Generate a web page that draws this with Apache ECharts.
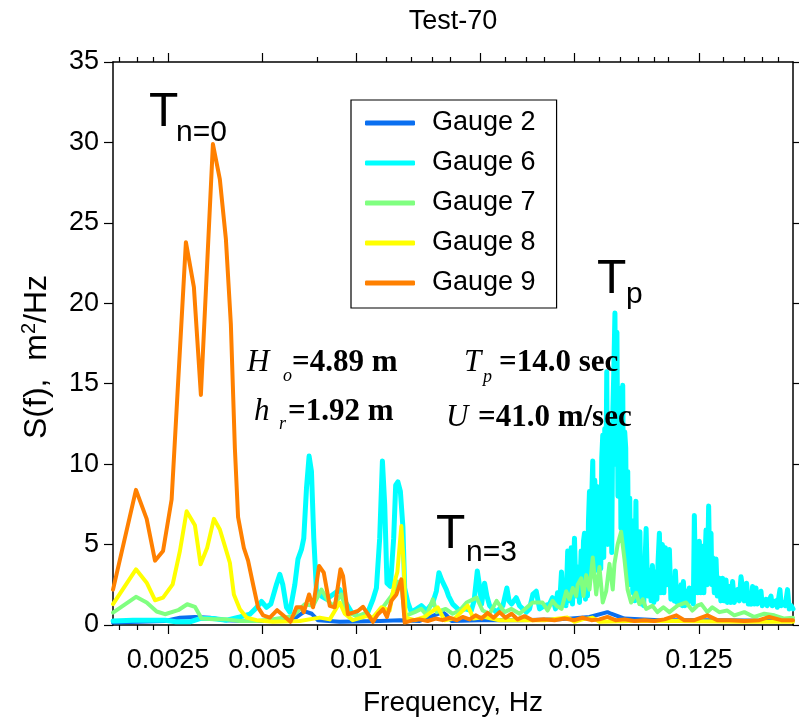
<!DOCTYPE html>
<html>
<head>
<meta charset="utf-8">
<title>Test-70</title>
<script src="https://cdn.jsdelivr.net/npm/echarts@6/dist/echarts.min.js"></script>
<style>
  html, body { margin: 0; padding: 0; background: #ffffff; }
  #chart { width: 799px; height: 722px; }
</style>
</head>
<body>
<div id="chart"></div>
<script>
// Fonts
const SANS = "'Liberation Sans',Arial,Helvetica,sans-serif";
const SERIF = "'Liberation Serif','Times New Roman',Times,serif";

// Frequency axis (log scale, Hz)
const freqMin = 1 / 600;
const freqMax = 0.25;
const majorTicks = [0.0025, 0.005, 0.01, 0.025, 0.05, 0.125];
const majorTickLabels = ['0.0025', '0.005', '0.01', '0.025', '0.05', '0.125'];
const minorTicks = [0.00175, 0.002, 0.00225, 0.0075, 0.0125, 0.015, 0.0175, 0.02,
  0.03, 0.035, 0.04, 0.06, 0.07, 0.08, 0.09, 0.1, 0.15, 0.175, 0.2, 0.225];

// Spectral density axis (m^2/Hz)
const densMin = 0;
const densMax = 35;
const densStep = 5;

const gaugeNames = ['Gauge 2', 'Gauge 6', 'Gauge 7', 'Gauge 8', 'Gauge 9'];
const gaugeColors = ['#0a6ff0', '#00ffff', '#80ff80', '#ffff00', '#ff8000'];
const gaugeWidths = [4, 5, 4, 4, 4];

// [frequency Hz, S(f) m^2/Hz]
const gauge2 = [
  [0.001667,0.15],[0.002033,0.2],[0.002444,0.25],[0.002729,0.45],[0.003048,0.5],[0.003404,0.45],
  [0.003801,0.3],[0.004569,0.25],[0.005698,0.25],[0.006457,0.5],[0.006849,0.85],[0.007211,0.7],
  [0.007536,0.3],[0.008861,0.2],[0.011894,0.25],[0.013781,0.3],[0.015966,0.25],[0.018911,0.8],
  [0.019476,0.6],[0.020206,0.25],[0.024831,0.3],[0.033332,0.3],[0.044742,0.35],[0.055797,0.5],
  [0.063702,0.8],[0.065446,0.7],[0.072193,0.4],[0.093405,0.3],[0.145264,0.3],[0.25,0.25]
];

const gauge6 = [
  [0.001667,0.25],[0.001931,0.3],[0.002188,0.3],[0.002444,0.3],[0.002650,0.2],[0.002938,0.2],
  [0.003162,0.4],[0.003480,0.4],[0.003849,0.3],[0.004245,0.5],[0.004569,0.67],[0.004800,1.08],
  [0.004978,1.46],[0.005167,1.1],[0.005332,1.3],[0.005561,2.53],[0.005698,3.15],[0.005825,2.5],
  [0.005986,1.1],[0.006133,0.8],[0.006363,2.5],[0.006514,4.1],[0.006683,4.7],[0.006798,5.4],
  [0.006935,8.5],[0.007069,10.5],[0.007193,9.55],[0.007318,5.4],[0.007465,2.1],[0.007743,1.8],
  [0.008035,1.6],[0.008432,1.9],[0.008861,2.2],[0.009193,1.5],[0.009656,0.8],[0.010266,0.46],
  [0.010905,0.8],[0.011322,1.6],[0.011610,2.3],[0.011894,5.4],[0.012134,10.2],[0.012340,7.5],
  [0.012550,2.6],[0.012869,2.4],[0.013185,5.4],[0.013381,8.7],[0.013599,8.9],[0.013852,8.3],
  [0.014112,6.1],[0.014297,2.3],[0.014638,1.4],[0.015017,0.8],[0.015618,1.0],[0.016164,1.2],
  [0.016810,0.9],[0.017597,1.4],[0.018056,2.1],[0.018404,3.25],[0.018773,2.8],[0.019435,2.2],
  [0.019765,1.8],[0.020370,1.3],[0.021432,0.9],[0.022400,1.0],[0.023361,0.9],[0.023846,1.5],
  [0.024414,3.36],[0.024831,2.4],[0.025199,1.3],[0.025762,2.6],[0.026200,1.8],[0.026728,1.2],
  [0.028081,0.8],[0.029475,1.2],[0.030357,2.3],[0.030854,1.5],[0.031425,1.3],[0.032534,1.7],
  [0.033332,1.2],[0.035019,0.8],[0.035877,1.0],[0.036759,1.9],[0.037694,2.1],[0.038618,1.0],
  [0.040065,1.2],[0.041567,1.3],[0.042495,1.7],[0.043444,1.0],[0.044089,2.0],[0.044742,1.2],
  [0.045406,3.3],[0.045910,1.5],[0.046419,2.5],[0.046936,1.2],[0.047525,4.6],[0.048160,1.5],
  [0.048769,4.8],[0.049234,1.3],[0.049965,5.4],[0.050520,1.8],[0.051155,3.6],[0.051838,1.4],
  [0.052479,4.6],[0.052995,2.0],[0.053387,5.2],[0.053781,5.7],[0.054179,1.6],[0.054579,4.5],
  [0.054982,1.8],[0.055388,6.5],[0.055797,8.3],[0.056209,3.5],[0.056624,7.4],[0.057168,10.2],
  [0.057592,3.8],[0.058018,9.0],[0.058446,7.1],[0.058878,3.4],[0.059313,8.6],[0.059753,3.6],
  [0.060194,7.9],[0.060636,3.5],[0.061087,10.4],[0.061535,11.8],[0.061991,4.2],[0.062449,12.2],
  [0.062910,8.0],[0.063375,15.75],[0.063843,5.0],[0.064317,12.4],[0.064791,6.0],[0.065268,11.2],
  [0.065753,4.5],[0.066235,13.0],[0.066726,15.6],[0.067318,19.4],[0.067815,10.0],[0.068316,18.2],
  [0.068825,8.0],[0.069332,14.0],[0.069844,14.7],[0.070358,6.0],[0.070881,13.0],[0.071294,14.9],
  [0.071822,5.0],[0.072353,12.0],[0.072887,11.0],[0.073426,3.5],[0.073968,9.55],[0.074517,2.5],
  [0.075067,7.9],[0.075619,2.5],[0.076181,6.5],[0.076739,2.0],[0.077308,5.8],[0.077879,1.5],
  [0.078570,7.7],[0.079151,2.0],[0.079740,5.0],[0.080328,1.8],[0.080920,5.8],[0.081516,1.3],
  [0.082419,3.7],[0.083212,1.2],[0.084702,6.0],[0.085700,1.8],
  [0.086778,3.4],[0.087875,1.5],[0.088714,3.7],[0.089699,1.4],[0.090696,3.3],[0.091703,1.6],
  [0.092520,4.0],[0.093405,5.7],[0.094444,2.0],[0.095490,5.0],[0.096551,2.0],[0.097623,4.8],
  [0.098708,2.5],[0.100539,4.7],[0.101658,1.6],[0.103009,2.3],[0.104308,1.5],[0.105079,3.36],
  [0.106246,1.4],[0.107425,2.0],[0.108622,1.3],[0.109588,2.5],[0.110633,1.2],[0.111451,2.7],
  [0.112691,1.2],[0.113940,2.1],[0.115213,1.3],[0.116485,2.3],[0.117780,1.5],[0.119083,2.2],
  [0.119964,1.3],[0.120850,6.8],[0.122013,2.0],[0.122914,5.0],[0.124014,2.0],[0.125382,5.2],
  [0.126775,2.0],[0.128461,4.9],[0.129603,2.0],[0.131730,5.9],[0.132985,2.5],[0.134270,7.4],
  [0.135461,3.0],[0.136664,5.7],[0.137472,2.5],[0.138273,4.2],[0.140016,2.0],[0.141790,4.1],
  [0.143143,1.8],[0.145264,2.9],[0.146880,1.5],[0.148833,2.9],[0.150711,1.5],[0.152621,2.8],
  [0.154076,1.4],[0.156360,2.4],[0.158098,1.4],[0.160201,2.7],[0.162219,1.4],[0.166212,2.2],
  [0.168302,1.5],[0.170431,3.0],[0.172437,3.05],[0.174611,1.5],[0.177593,2.6],[0.179828,1.3],
  [0.182107,1.6],[0.183845,1.3],[0.185607,2.4],[0.187949,1.3],[0.190331,2.3],[0.192145,1.3],
  [0.197459,2.1],[0.199346,1.2],[0.204868,1.6],[0.206821,1.2],[0.212542,1.8],[0.214571,1.2],
  [0.220515,1.5],[0.222617,1.1],[0.227101,2.2],[0.229267,1.2],[0.232668,1.4],[0.236120,1.2],
  [0.240152,2.2],[0.243173,1.0],[0.246779,1.2],[0.25,1.0]
];

const gauge7 = [
  [0.001667,0.77],[0.001974,1.75],[0.002136,1.4],[0.002299,0.84],[0.002444,0.67],[0.002693,0.92],
  [0.002880,1.29],[0.003048,1.13],[0.003201,0.4],[0.003488,0.35],[0.003849,0.35],[0.004245,0.25],
  [0.004800,0.25],[0.005421,0.36],[0.006270,0.55],[0.006849,1.29],[0.007280,1.19],[0.007743,2.2],
  [0.008124,1.5],[0.008432,1.2],[0.008971,1.9],[0.009310,0.8],[0.010116,0.55],[0.010786,0.77],
  [0.011214,0.4],[0.012186,1.1],[0.012961,1.8],[0.013599,2.7],[0.013951,2.5],[0.014297,0.55],
  [0.015389,0.8],[0.016164,1.0],[0.016810,0.6],[0.017597,1.6],[0.018094,0.8],[0.019334,1.0],
  [0.020356,0.7],[0.021432,0.9],[0.022565,1.4],[0.024289,1.7],[0.025385,0.9],[0.026728,0.7],
  [0.028141,1.5],[0.029847,0.8],[0.031425,1.0],[0.033332,0.7],[0.036678,1.4],[0.039480,1.4],
  [0.040960,0.9],[0.042495,1.5],[0.043765,1.2],[0.045406,1.0],[0.047008,2.1],[0.048160,1.6],
  [0.049343,2.3],[0.050598,1.8],[0.051155,2.5],[0.052479,2.9],[0.053387,1.8],[0.054463,3.1],
  [0.055797,2.2],[0.057170,4.2],[0.058623,1.9],[0.060059,3.6],[0.061530,1.4],[0.063100,2.1],
  [0.064646,3.8],[0.066228,2.2],[0.067069,3.8],[0.068667,5.0],[0.070444,5.8],[0.072193,4.1],
  [0.073911,2.2],[0.075825,1.4],[0.078691,2.0],[0.080619,1.3],[0.082600,1.6],[0.084702,1.0],
  [0.088714,1.2],[0.092041,0.8],[0.096196,1.1],[0.100539,0.8],[0.106637,1.2],[0.113698,1.4],
  [0.119083,0.9],[0.123549,1.2],[0.127239,1.3],[0.132985,0.8],[0.137969,1.1],[0.145264,0.8],
  [0.154076,0.9],[0.162219,0.6],[0.174611,0.8],[0.187949,0.5],[0.202303,0.7],[0.217756,0.6],
  [0.234387,0.4],[0.25,0.45]
];

const gauge8 = [
  [0.001667,1.3],[0.001974,3.46],[0.002136,2.63],[0.002271,1.54],[0.002410,1.7],[0.002587,2.53],
  [0.002729,4.6],[0.002867,7.07],[0.003048,6.2],[0.003178,3.77],[0.003336,4.8],[0.003505,6.6],
  [0.003663,5.94],[0.003801,4.9],[0.003943,3.87],[0.004061,1.9],[0.004245,0.98],[0.004459,0.46],
  [0.004800,0.3],[0.005411,0.2],[0.006601,0.25],[0.007648,0.46],[0.008232,0.35],[0.008861,1.4],
  [0.009193,0.7],[0.009751,0.3],[0.010786,0.55],[0.011297,0.45],[0.012041,1.1],[0.012803,0.9],
  [0.013283,2.7],[0.013549,3.3],[0.013951,6.15],[0.014193,3.8],[0.014404,0.46],[0.015389,0.3],
  [0.016565,0.5],[0.018228,1.1],[0.019192,0.3],[0.020658,0.4],[0.022732,1.2],[0.023758,0.4],
  [0.025762,0.5],[0.028769,0.3],[0.033332,0.3],[0.040065,0.3],[0.047456,0.46],[0.049965,0.2],
  [0.052995,0.35],[0.057043,0.46],[0.060059,0.2],[0.074899,0.25],[0.108218,0.25],[0.168302,0.2],
  [0.25,0.2]
];

const gauge9 = [
  [0.001667,2.2],[0.001974,8.4],[0.002136,6.6],[0.002271,4.0],[0.002410,4.6],[0.002567,7.8],
  [0.002852,23.8],[0.003025,21.0],[0.003185,14.3],[0.003480,29.9],[0.003663,27.7],[0.003829,24.0],
  [0.003972,18.7],[0.004091,11.0],[0.004189,6.7],[0.004371,4.8],[0.004509,4.0],[0.004681,2.5],
  [0.004853,1.1],[0.005039,0.6],[0.005293,0.46],[0.005585,0.92],[0.005838,0.6],[0.006164,0.2],
  [0.006443,1.1],[0.006683,1.1],[0.006798,0.8],[0.007069,1.9],[0.007280,1.1],[0.007609,3.67],
  [0.007877,3.25],[0.008232,1.19],[0.008541,1.1],[0.008907,3.46],[0.009078,3.05],[0.009412,0.67],
  [0.009772,0.77],[0.010131,0.87],[0.010518,1.13],[0.010905,0.67],[0.011322,0.2],[0.011738,0.67],
  [0.012186,0.98],[0.012550,0.5],[0.012961,1.5],[0.013451,1.9],[0.013951,2.84],[0.014297,0.15],
  [0.015164,0.3],[0.015966,0.35],[0.016935,0.25],[0.017962,0.4],[0.018911,0.3],[0.019911,0.45],
  [0.020964,0.3],[0.021910,0.5],[0.023069,0.35],[0.024111,0.6],[0.025199,0.4],[0.026337,0.75],
  [0.027526,0.45],[0.028769,0.8],[0.030068,0.45],[0.031425,0.7],[0.032845,0.35],[0.034581,0.55],
  [0.036678,0.3],[0.040065,0.35],[0.043126,0.3],[0.046419,0.4],[0.049965,0.3],[0.052995,0.45],
  [0.056624,0.3],[0.060059,0.35],[0.063702,0.5],[0.067566,0.3],[0.072193,0.35],[0.077706,0.25],
  [0.083641,0.3],[0.090030,0.25],[0.096907,0.35],[0.105855,0.6],[0.112274,0.3],[0.120850,0.3],
  [0.132985,0.6],[0.143143,0.3],[0.156360,0.3],[0.174611,0.25],[0.194993,0.3],[0.209887,0.5],
  [0.229267,0.3],[0.25,0.3]
];

const gaugeData = [gauge2, gauge6, gauge7, gauge8, gauge9];

// Tick helper axes work in log10(Hz) so the tick marks can sit on arbitrary frequencies
const logMin = Math.log10(freqMin);
const logMax = Math.log10(freqMax);
const majorLog = majorTicks.map(Math.log10);
const minorLog = minorTicks.map(Math.log10);

function majorLabel(v) {
  for (let i = 0; i < majorLog.length; i++) {
    if (Math.abs(majorLog[i] - v) < 1e-6) return majorTickLabels[i];
  }
  return '';
}

function tickAxis(position, ticks, len, showLabel, showLine) {
  return {
    type: 'value', position: position, min: logMin, max: logMax,
    axisLine: { show: showLine, onZero: false, lineStyle: { color: '#000', width: 1.5 } },
    axisTick: { show: true, customValues: ticks, length: len, lineStyle: { color: '#000', width: 1.2 } },
    axisLabel: showLabel ? {
      show: true, customValues: ticks, formatter: majorLabel, margin: 22,
      color: '#000', fontFamily: SANS, fontSize: 27
    } : { show: false },
    splitLine: { show: false }
  };
}

// Annotation text on top of the curves
function note(x, y, text, font) {
  return { type: 'text', silent: true, z: 100, x: x, y: y,
    style: { text: text, font: font, fill: '#000', verticalAlign: 'middle' } };
}

const chart = echarts.init(document.getElementById('chart'), null, { renderer: 'canvas' });

const option = {
  animation: false,
  backgroundColor: '#ffffff',
  grid: { left: 113, right: 6, top: 62, bottom: 94, containLabel: false },
  legend: {
    orient: 'vertical', left: 351, top: 100,
    padding: [7, 21, 9, 14], itemGap: 8, itemWidth: 50, itemHeight: 5,
    icon: 'roundRect', borderColor: '#000', borderWidth: 1.2, backgroundColor: '#fff',
    textStyle: { fontFamily: SANS, fontSize: 27, color: '#000', lineHeight: 32, padding: [0, 0, 0, 12] },
    data: gaugeNames
  },
  xAxis: [
    {
      type: 'log', logBase: 10, min: freqMin, max: freqMax, position: 'bottom',
      axisLine: { show: true, onZero: false, lineStyle: { color: '#000', width: 1.5 } },
      axisTick: { show: false }, axisLabel: { show: false }, splitLine: { show: false },
      name: 'Frequency, Hz', nameLocation: 'middle', nameGap: 64,
      nameTextStyle: { fontFamily: SANS, fontSize: 28, color: '#000' }
    },
    tickAxis('bottom', majorLog, 9, true, false),
    tickAxis('bottom', minorLog, 5, false, false),
    tickAxis('top', majorLog, 9, false, true),
    tickAxis('top', minorLog, 5, false, false)
  ],
  yAxis: [
    {
      type: 'value', min: densMin, max: densMax, interval: densStep, position: 'left',
      axisLine: { show: true, onZero: false, lineStyle: { color: '#000', width: 1.5 } },
      axisTick: { show: true, length: 9, lineStyle: { color: '#000', width: 1.2 } },
      axisLabel: { color: '#000', fontFamily: SANS, fontSize: 27, margin: 14 },
      splitLine: { show: false }
    },
    {
      type: 'value', min: densMin, max: densMax, interval: densStep, position: 'right',
      axisLine: { show: true, onZero: false, lineStyle: { color: '#000', width: 1.5 } },
      axisTick: { show: true, length: 6, lineStyle: { color: '#000', width: 1.2 } },
      axisLabel: { show: false }, splitLine: { show: false }
    }
  ],
  series: gaugeData.map(function (d, i) {
    return {
      name: gaugeNames[i], type: 'line', xAxisIndex: 0, yAxisIndex: 0,
      data: d, showSymbol: false, symbol: 'none', smooth: false,
      lineStyle: { color: gaugeColors[i], width: gaugeWidths[i], join: 'round', cap: 'round' },
      itemStyle: { color: gaugeColors[i] },
      emphasis: { disabled: true }
    };
  }),
  graphic: [
    { type: 'text', silent: true, z: 100, x: 453, y: 22,
      style: { text: 'Test-70', font: '27px ' + SANS, fill: '#000', align: 'center', verticalAlign: 'middle' } },
    { type: 'text', silent: true, z: 100, x: 37, y: 357, rotation: Math.PI / 2,
      style: {
        text: '{a|S(f),  m}{b|2}{a|/Hz}', align: 'center', verticalAlign: 'middle', fill: '#000',
        rich: {
          a: { fontFamily: SANS, fontSize: 32, lineHeight: 36, fill: '#000' },
          b: { fontFamily: SANS, fontSize: 20, lineHeight: 36, verticalAlign: 'top', fill: '#000' }
        }
      } },
    // period markers
    note(149, 113, 'T', '48px ' + SANS),
    note(176, 133, 'n=0', '30px ' + SANS),
    note(597, 280, 'T', '48px ' + SANS),
    note(626, 295, 'p', '30px ' + SANS),
    note(436, 535, 'T', '48px ' + SANS),
    note(466, 553, 'n=3', '30px ' + SANS),
    // wave and wind parameters
    note(247, 363, 'H', 'italic 31px ' + SERIF),
    note(283, 376, 'o', 'italic 18px ' + SERIF),
    note(292, 363, '=4.89 m', 'bold 31px ' + SERIF),
    note(254, 412, 'h', 'italic 31px ' + SERIF),
    note(279, 424, 'r', 'italic 18px ' + SERIF),
    note(288, 412, '=1.92 m', 'bold 31px ' + SERIF),
    note(464, 363, 'T', 'italic 31px ' + SERIF),
    note(483, 377, 'p', 'italic 18px ' + SERIF),
    note(499, 363, '=14.0 sec', 'bold 31px ' + SERIF),
    note(446, 418, 'U', 'italic 31px ' + SERIF),
    note(478, 418, '=41.0 m/sec', 'bold 31px ' + SERIF)
  ]
};

chart.setOption(option);
</script>
</body>
</html>
